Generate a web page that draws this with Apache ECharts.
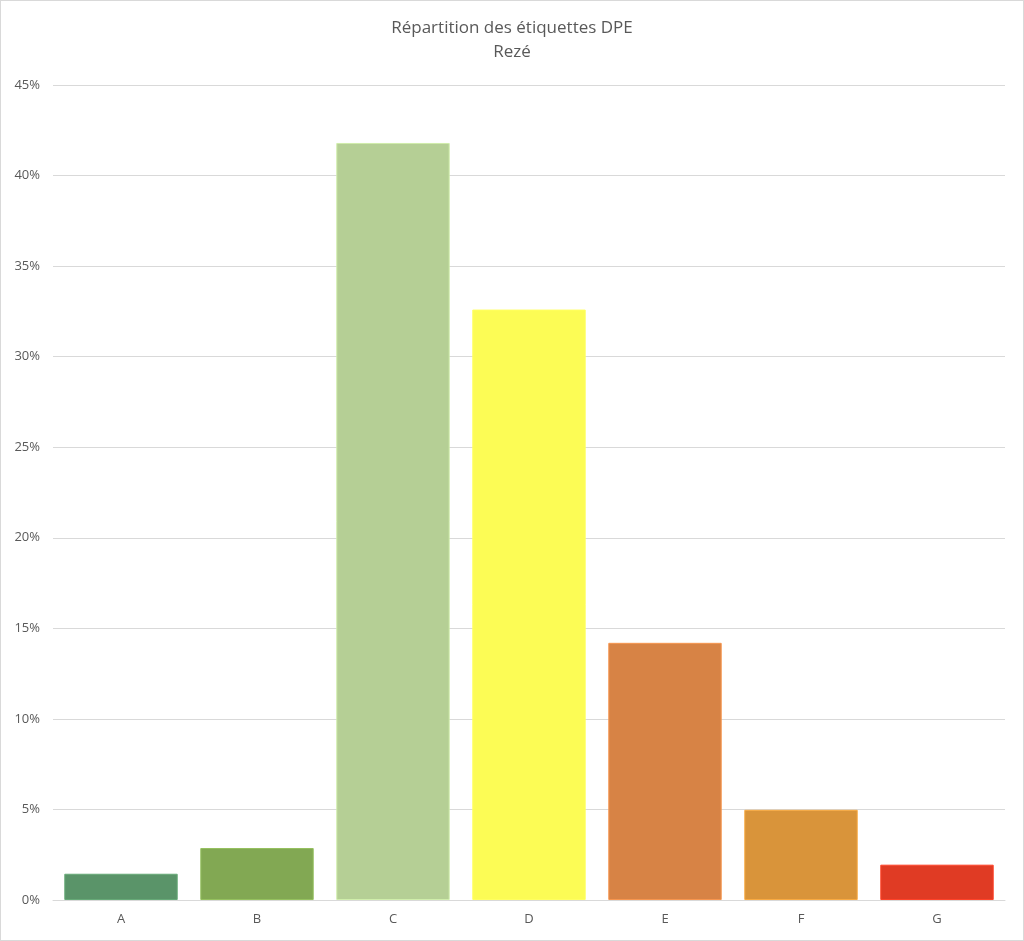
<!DOCTYPE html>
<html>
<head>
<meta charset="utf-8">
<script src="https://cdn.jsdelivr.net/npm/echarts@6/dist/echarts.min.js"></script>
<style>
html,body{margin:0;padding:0;background:#fff;}
#chart{width:1024px;height:941px;box-sizing:border-box;border:1px solid #d9d9d9;}
</style>
</head>
<body>
<div id="chart"></div>
<script>
const categories = ['A','B','C','D','E','F','G'];
const values = [1.45, 2.87, 41.8, 32.6, 14.2, 4.98, 1.95];
const colors = ['#5A9469','#82A853','#B5CF95','#FCFC55','#D78345','#D9943A','#E03B24'];
const yTicks = { min: 0, max: 45, interval: 5 };

const chart = echarts.init(document.getElementById('chart'));
chart.setOption({
  animation: false,
  title: {
    text: 'Répartition des étiquettes DPE',
    subtext: 'Rezé',
    left: 'center',
    top: 14,
    itemGap: 7,
    textStyle: { fontFamily: 'Open Sans', fontSize: 17, fontWeight: 'normal', color: '#595959' },
    subtextStyle: { fontFamily: 'Open Sans', fontSize: 17, color: '#595959' }
  },
  grid: { left: 52, right: 18, top: 84, bottom: 40, containLabel: false },
  xAxis: {
    type: 'category',
    data: categories,
    axisTick: { show: false },
    axisLine: { lineStyle: { color: '#d9d9d9', width: 1 } },
    axisLabel: { color: '#595959', fontFamily: 'Open Sans', fontSize: 13, margin: 13 }
  },
  yAxis: {
    type: 'value',
    min: yTicks.min, max: yTicks.max, interval: yTicks.interval,
    axisLine: { show: false },
    axisTick: { show: false },
    splitLine: { lineStyle: { color: '#d9d9d9', width: 1 } },
    axisLabel: { color: '#595959', fontFamily: 'Open Sans', fontSize: 13, margin: 13, formatter: v => v + '%' }
  },
  series: [{
    type: 'bar',
    barCategoryGap: '16.6%',
    data: values.map((v, i) => ({
      value: v,
      itemStyle: { color: colors[i], borderColor: echarts.color.lift(colors[i], -0.15), borderWidth: 1 }
    }))
  }]
});
</script>
</body>
</html>
